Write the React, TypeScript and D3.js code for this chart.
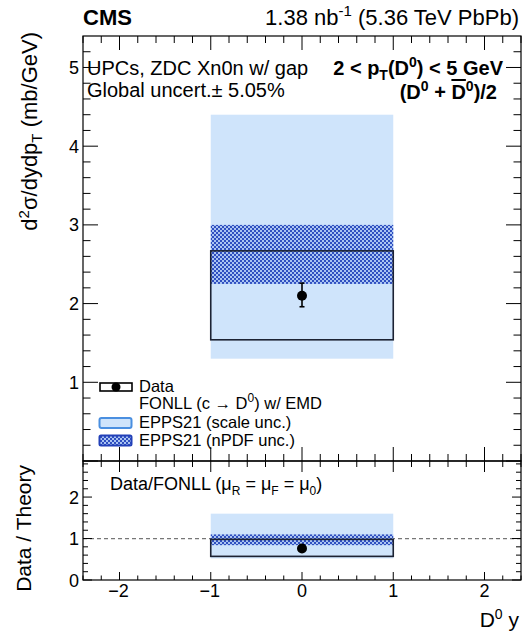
import React from "react";
import * as d3 from "d3";

// Rapidity bin and measured cross section (upper panel)
const binLo = [-1];
const binHi = [1];
const dataValue = [2.1];
const dataStatLo = [1.96];
const dataStatHi = [2.26];
const dataSystLo = [1.54];
const dataSystHi = [2.67];
const scaleLo = [1.3];
const scaleHi = [4.4];
const npdfLo = [2.25];
const npdfHi = [3.0];

// Data / theory ratio (lower panel)
const ratioValue = [0.76];
const ratioStatLo = [0.71];
const ratioStatHi = [0.81];
const ratioSystLo = [0.57];
const ratioSystHi = [0.98];
const ratioScaleLo = [0.52];
const ratioScaleHi = [1.6];
const ratioNpdfLo = [0.84];
const ratioNpdfHi = [1.1];

const xMajor = [-2, -1, 0, 1, 2];
const yMajorTop = [1, 2, 3, 4, 5];
const yMajorBottom = [0, 1, 2];

const W = 528;
const H = 633;
const L = 83;
const R = 521;
const T = 36;
const MID = 461;
const B = 580;

const FONT = "'Liberation Sans', Arial, Helvetica, sans-serif";
const LIGHT = "#cfe4fb";
const NPDF = "#2f4fc0";
const BOX = "#1c2233";

const fmt = (v: number) => (v < 0 ? "\u2212" + Math.abs(v) : String(v));

export default function App() {
  const x = d3.scaleLinear().domain([-2.4, 2.4]).range([L, R]);
  const yTop = d3.scaleLinear().domain([0, 5.4]).range([MID, T]);
  const yBot = d3.scaleLinear().domain([0, 2.87]).range([B, MID]);

  const xMinor = d3.range(-2.4, 2.41, 0.2).map((v) => Math.round(v * 10) / 10);
  const yMinorTop = d3.range(0, 5.41, 0.2).map((v) => Math.round(v * 10) / 10);
  const yMinorBot = d3.range(0, 2.87, 0.2).map((v) => Math.round(v * 10) / 10);
  const isMajor = (v: number) => Math.abs(v - Math.round(v)) < 1e-6;

  const ticks: React.ReactNode[] = [];
  // upper panel x ticks (top and bottom edges)
  xMinor.forEach((v, i) => {
    const len = isMajor(v) ? 14 : 7;
    const px = x(v);
    ticks.push(<line key={`ut${i}`} x1={px} x2={px} y1={T} y2={T + len} />);
    ticks.push(<line key={`ub${i}`} x1={px} x2={px} y1={MID} y2={MID - len} />);
  });
  // upper panel y ticks (left and right edges)
  yMinorTop.forEach((v, i) => {
    const len = isMajor(v) ? 15 : 7.5;
    const py = yTop(v);
    if (py < T + 0.5) return;
    ticks.push(<line key={`ul${i}`} x1={L} x2={L + len} y1={py} y2={py} />);
    ticks.push(<line key={`ur${i}`} x1={R} x2={R - len} y1={py} y2={py} />);
  });
  // lower panel x ticks
  xMinor.forEach((v, i) => {
    const lenT = isMajor(v) ? 11 : 6;
    const lenB = isMajor(v) ? 8 : 4.5;
    const px = x(v);
    ticks.push(<line key={`lt${i}`} x1={px} x2={px} y1={MID} y2={MID + lenT} />);
    ticks.push(<line key={`lb${i}`} x1={px} x2={px} y1={B} y2={B - lenB} />);
  });
  // lower panel y ticks
  yMinorBot.forEach((v, i) => {
    const len = isMajor(v) ? 9 : 5;
    const py = yBot(v);
    ticks.push(<line key={`ll${i}`} x1={L} x2={L + len} y1={py} y2={py} />);
    ticks.push(<line key={`lr${i}`} x1={R} x2={R - len} y1={py} y2={py} />);
  });

  const band = (
    lo: number[],
    hi: number[],
    ys: d3.ScaleLinear<number, number>,
    fill: string,
    key: string
  ) =>
    binLo.map((b, i) => (
      <rect
        key={`${key}${i}`}
        x={x(b)}
        width={x(binHi[i]) - x(b)}
        y={ys(hi[i])}
        height={ys(lo[i]) - ys(hi[i])}
        fill={fill}
      />
    ));

  const box = (lo: number[], hi: number[], ys: d3.ScaleLinear<number, number>, key: string) =>
    binLo.map((b, i) => (
      <rect
        key={`${key}${i}`}
        x={x(b)}
        width={x(binHi[i]) - x(b)}
        y={ys(hi[i])}
        height={ys(lo[i]) - ys(hi[i])}
        fill="none"
        stroke={BOX}
        strokeWidth={1.6}
      />
    ));

  const points = (
    val: number[],
    lo: number[],
    hi: number[],
    ys: d3.ScaleLinear<number, number>,
    r: number,
    key: string
  ) =>
    val.map((v, i) => {
      const cx = x((binLo[i] + binHi[i]) / 2);
      return (
        <g key={`${key}${i}`}>
          <line x1={cx} x2={cx} y1={ys(lo[i])} y2={ys(hi[i])} stroke="#000" strokeWidth={1.6} />
          <line x1={cx - 2.5} x2={cx + 2.5} y1={ys(lo[i])} y2={ys(lo[i])} stroke="#000" strokeWidth={1.6} />
          <line x1={cx - 2.5} x2={cx + 2.5} y1={ys(hi[i])} y2={ys(hi[i])} stroke="#000" strokeWidth={1.6} />
          <circle cx={cx} cy={ys(v)} r={r} fill="#000" />
        </g>
      );
    });

  return (
    <svg
      width={W}
      height={H}
      style={{ position: "absolute", left: 0, top: 0, background: "#fff" }}
      fontFamily={FONT}
    >
      <defs>
        <pattern id="npdfHatch" width="4" height="4" patternUnits="userSpaceOnUse">
          <rect width="4" height="4" fill="#aac4f2" />
          <rect x="0" y="0" width="2" height="2" fill={NPDF} />
          <rect x="2" y="2" width="2" height="2" fill={NPDF} />
        </pattern>
      </defs>

      {/* upper panel */}
      {band(scaleLo, scaleHi, yTop, LIGHT, "sc")}
      {band(npdfLo, npdfHi, yTop, "url(#npdfHatch)", "np")}
      {box(dataSystLo, dataSystHi, yTop, "sy")}
      {points(dataValue, dataStatLo, dataStatHi, yTop, 5, "pt")}

      {/* lower panel */}
      {band(ratioScaleLo, ratioScaleHi, yBot, LIGHT, "rsc")}
      <line
        x1={L}
        x2={R}
        y1={yBot(1)}
        y2={yBot(1)}
        stroke="#777"
        strokeWidth={1.2}
        strokeDasharray="4,3"
      />
      {band(ratioNpdfLo, ratioNpdfHi, yBot, "url(#npdfHatch)", "rnp")}
      {box(ratioSystLo, ratioSystHi, yBot, "rsy")}
      {points(ratioValue, ratioStatLo, ratioStatHi, yBot, 5, "rpt")}

      {/* frames and ticks */}
      <g stroke="#000" strokeWidth={1}>{ticks}</g>
      <rect x={L} y={T} width={R - L} height={MID - T} fill="none" stroke="#000" strokeWidth={1.2} />
      <rect x={L} y={MID} width={R - L} height={B - MID} fill="none" stroke="#000" strokeWidth={1.2} />

      {/* tick labels */}
      <g fontSize={18} textAnchor="end">
        {yMajorTop.map((v) => (
          <text key={`yl${v}`} x={79} y={yTop(v) + 6.5}>
            {v}
          </text>
        ))}
        {yMajorBottom.map((v) => (
          <text key={`yb${v}`} x={79} y={yBot(v) + 6.5}>
            {v}
          </text>
        ))}
      </g>
      <g fontSize={18} textAnchor="middle">
        {xMajor.map((v) => (
          <text key={`xl${v}`} x={x(v) - (v < 0 ? 1 : 0)} y={597}>
            {fmt(v)}
          </text>
        ))}
      </g>

      {/* axis titles */}
      <text
        transform={`translate(37,32) rotate(-90)`}
        textAnchor="end"
        fontSize={22}
      >
        d<tspan dy={-8} fontSize={15}>2</tspan>
        <tspan dy={8}>σ/dydp</tspan>
        <tspan dy={5} fontSize={15}>T</tspan>
        <tspan dy={-5}>{"  (mb/GeV)"}</tspan>
      </text>
      <text transform={`translate(31,465) rotate(-90)`} textAnchor="end" fontSize={21}>
        Data / Theory
      </text>
      <text x={519} y={627} textAnchor="end" fontSize={21}>
        D<tspan dy={-8} fontSize={14}>0</tspan>
        <tspan dy={8}> y</tspan>
      </text>

      {/* header */}
      <text x={83} y={25} fontSize={22} fontWeight="bold">
        CMS
      </text>
      <text x={519} y={25} fontSize={22} textAnchor="end">
        1.38 nb<tspan dy={-9} fontSize={15}>-1</tspan>
        <tspan dy={9}> (5.36 TeV PbPb)</tspan>
      </text>

      {/* panel annotations */}
      <text x={87} y={75} fontSize={20}>
        UPCs, ZDC Xn0n w/ gap
      </text>
      <text x={87} y={97} fontSize={20}>
        Global uncert.± 5.05%
      </text>
      <text x={503} y={75} fontSize={20} fontWeight="bold" textAnchor="end">
        2 {"<"} p<tspan dy={5} fontSize={14}>T</tspan>
        <tspan dy={-5}>(D</tspan>
        <tspan dy={-8} fontSize={14}>0</tspan>
        <tspan dy={8}>) {"<"} 5 GeV</tspan>
      </text>
      <text x={497} y={99} fontSize={20} fontWeight="bold" textAnchor="end">
        (D<tspan dy={-8} fontSize={14}>0</tspan>
        <tspan dy={8}> + </tspan>
        <tspan style={{ textDecoration: "overline" }}>D</tspan>
        <tspan dy={-8} fontSize={14}>0</tspan>
        <tspan dy={8}>)/2</tspan>
      </text>

      {/* legend */}
      <g>
        <rect x={100} y={383} width={32} height={8} fill="none" stroke="#000" strokeWidth={1.6} />
        <circle cx={116} cy={387} r={4.5} fill="#000" />
        <rect x={99.5} y={418} width={32} height={10} rx={2} fill={LIGHT} stroke="#4a8fe0" strokeWidth={2} />
        <rect x={99.5} y={435.5} width={32} height={10} rx={1.5} fill="url(#npdfHatch)" stroke="#2240b8" strokeWidth={2} />
      </g>
      <g fontSize={16.5}>
        <text x={139} y={392}>Data</text>
        <text x={139} y={409}>
          FONLL (c → D<tspan dy={-7} fontSize={12}>0</tspan>
          <tspan dy={7}>) w/ EMD</tspan>
        </text>
        <text x={139} y={428}>EPPS21 (scale unc.)</text>
        <text x={139} y={446}>EPPS21 (nPDF unc.)</text>
      </g>

      {/* ratio label */}
      <text x={110} y={490} fontSize={18}>
        Data/FONLL (μ<tspan dy={5} fontSize={12}>R</tspan>
        <tspan dy={-5}> = μ</tspan>
        <tspan dy={5} fontSize={12}>F</tspan>
        <tspan dy={-5}> = μ</tspan>
        <tspan dy={5} fontSize={12}>0</tspan>
        <tspan dy={-5}>)</tspan>
      </text>
    </svg>
  );
}
